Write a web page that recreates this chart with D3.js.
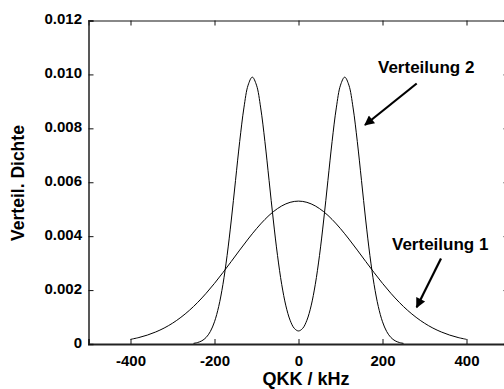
<!DOCTYPE html>
<html>
<head>
<meta charset="utf-8">
<script src="https://cdn.jsdelivr.net/npm/d3@7"></script>
<style>
  body { margin: 0; background: #fff; }
  svg { display: block; font-family: Arial, "Liberation Sans", sans-serif; }
</style>
</head>
<body>
<svg id="chart" width="504" height="389"></svg>
<script>
  // ─── Data ─────────────────────────────────────────

  // Verteilung 1: broad single peak
  const q1 = [-400, -380, -360, -340, -320, -300, -280, -260, -240, -220, -200,
    -180, -160, -140, -120, -100, -80, -60, -40, -20, 0,
    20, 40, 60, 80, 100, 120, 140, 160, 180, 200,
    220, 240, 260, 280, 300, 320, 340, 360, 380, 400];
  const dens1 = [0.000172, 0.000240, 0.000330, 0.000446, 0.000591, 0.000771, 0.000989, 0.001246, 0.001543, 0.001880, 0.002250,
    0.002648, 0.003063, 0.003483, 0.003893, 0.004278, 0.004621, 0.004907, 0.005121, 0.005255, 0.005300,
    0.005255, 0.005121, 0.004907, 0.004621, 0.004278, 0.003893, 0.003483, 0.003063, 0.002648, 0.002250,
    0.001880, 0.001543, 0.001246, 0.000989, 0.000771, 0.000591, 0.000446, 0.000330, 0.000240, 0.000172];

  // Verteilung 2: double peak
  const q2 = [-250, -240, -230, -220, -210, -200, -190, -180, -170, -160, -150,
    -140, -130, -120, -110, -100, -90, -80, -70, -60, -50,
    -40, -30, -20, -10, 0, 10, 20, 30, 40, 50,
    60, 70, 80, 90, 100, 110, 120, 130, 140, 150,
    160, 170, 180, 190, 200, 210, 220, 230, 240, 250];
  const dens2 = [0.000024, 0.000056, 0.000119, 0.000242, 0.000461, 0.000825, 0.001390, 0.002203, 0.003282, 0.004599, 0.006061,
    0.007512, 0.008757, 0.009601, 0.009900, 0.009601, 0.008757, 0.007512, 0.006061, 0.004600, 0.003286,
    0.002213, 0.001414, 0.000881, 0.000580, 0.000484, 0.000580, 0.000881, 0.001414, 0.002213, 0.003286,
    0.004600, 0.006061, 0.007512, 0.008757, 0.009601, 0.009900, 0.009601, 0.008757, 0.007512, 0.006061,
    0.004599, 0.003282, 0.002203, 0.001390, 0.000825, 0.000461, 0.000242, 0.000119, 0.000056, 0.000024];

  const xTicks = [-400, -200, 0, 200, 400];
  const xTickLabels = ['-400', '-200', '0', '200', '400'];
  const yTicks = [0, 0.002, 0.004, 0.006, 0.008, 0.010, 0.012];
  const yTickLabels = ['0', '0.002', '0.004', '0.006', '0.008', '0.010', '0.012'];

  // ─── Layout ───────────────────────────────────────

  const svg = d3.select('#chart');
  const plot = { left: 88.5, right: 508.5, top: 20.5, bottom: 344 };

  const x = d3.scaleLinear().domain([-500, 500]).range([plot.left, plot.right]);
  const y = d3.scaleLinear().domain([0, 0.012]).range([plot.bottom, plot.top]);

  const fontW = 'bold';

  // ─── Axes (ticks point inward) ────────────────────

  const gx = svg.append('g')
    .attr('transform', `translate(0,${plot.bottom})`)
    .call(d3.axisBottom(x).tickValues(xTicks).tickSize(-5).tickPadding(11)
      .tickFormat((d, i) => xTickLabels[i]));
  gx.select('.domain').attr('stroke', '#222').attr('stroke-width', 2);

  const gxTop = svg.append('g')
    .attr('transform', `translate(0,${plot.top})`)
    .call(d3.axisTop(x).tickValues(xTicks).tickSize(-5).tickFormat(''));
  gxTop.select('.domain').attr('stroke', '#888').attr('stroke-width', 2);

  const gy = svg.append('g')
    .attr('transform', `translate(${plot.left},0)`)
    .call(d3.axisLeft(y).tickValues(yTicks).tickSize(-5).tickPadding(6.5)
      .tickFormat((d, i) => yTickLabels[i]));
  gy.select('.domain').attr('stroke', '#222').attr('stroke-width', 1.5);

  const gyRight = svg.append('g')
    .attr('transform', `translate(${plot.right},0)`)
    .call(d3.axisRight(y).tickValues(yTicks).tickSize(-5).tickFormat(''));
  gyRight.select('.domain').attr('stroke', '#222').attr('stroke-width', 1.5);

  [gx, gxTop, gy, gyRight].forEach(function (g) {
    g.selectAll('.tick line').attr('stroke', '#111').attr('stroke-width', 1);
    g.selectAll('.tick text')
      .attr('fill', '#000')
      .style('font-family', 'Arial, "Liberation Sans", sans-serif')
      .style('font-size', '15px')
      .style('font-weight', fontW);
  });
  gy.selectAll('.tick text').attr('dy', '0.2em');

  // ─── Axis titles ──────────────────────────────────

  svg.append('text')
    .attr('x', 306).attr('y', 385)
    .attr('text-anchor', 'middle')
    .style('font-size', '18px').style('font-weight', fontW)
    .text('QKK / kHz');

  svg.append('text')
    .attr('transform', 'translate(24,183) rotate(-90)')
    .attr('text-anchor', 'middle')
    .style('font-size', '17.5px').style('font-weight', fontW)
    .text('Verteil. Dichte');

  // ─── Curves ───────────────────────────────────────

  const line = d3.line()
    .x(d => x(d[0]))
    .y(d => y(d[1]))
    .curve(d3.curveCatmullRom);

  svg.append('path')
    .datum(q1.map((q, i) => [q, dens1[i]]))
    .attr('d', line)
    .attr('fill', 'none').attr('stroke', '#000').attr('stroke-width', 1);

  svg.append('path')
    .datum(q2.map((q, i) => [q, dens2[i]]))
    .attr('d', line)
    .attr('fill', 'none').attr('stroke', '#000').attr('stroke-width', 1);

  // ─── Annotations ──────────────────────────────────

  svg.append('defs').append('marker')
    .attr('id', 'head')
    .attr('viewBox', '0 0 10 10')
    .attr('refX', 9).attr('refY', 5)
    .attr('markerWidth', 5.5).attr('markerHeight', 4.5)
    .attr('markerUnits', 'strokeWidth')
    .attr('orient', 'auto')
    .append('path')
    .attr('d', 'M0,0 L10,5 L0,10 Z')
    .attr('fill', '#000');

  const notes = [
    { text: 'Verteilung 2', tx: 378, ty: 73, x1: 416.7, y1: 83.5, x2: 365, y2: 125 },
    { text: 'Verteilung 1', tx: 392, ty: 250, x1: 441, y1: 258.5, x2: 416.7, y2: 307.3 }
  ];

  notes.forEach(function (n) {
    svg.append('text')
      .attr('x', n.tx).attr('y', n.ty)
      .style('font-size', '17px').style('font-weight', fontW)
      .text(n.text);
    svg.append('line')
      .attr('x1', n.x1).attr('y1', n.y1)
      .attr('x2', n.x2).attr('y2', n.y2)
      .attr('stroke', '#000').attr('stroke-width', 2.2)
      .attr('marker-end', 'url(#head)');
  });
</script>
</body>
</html>
